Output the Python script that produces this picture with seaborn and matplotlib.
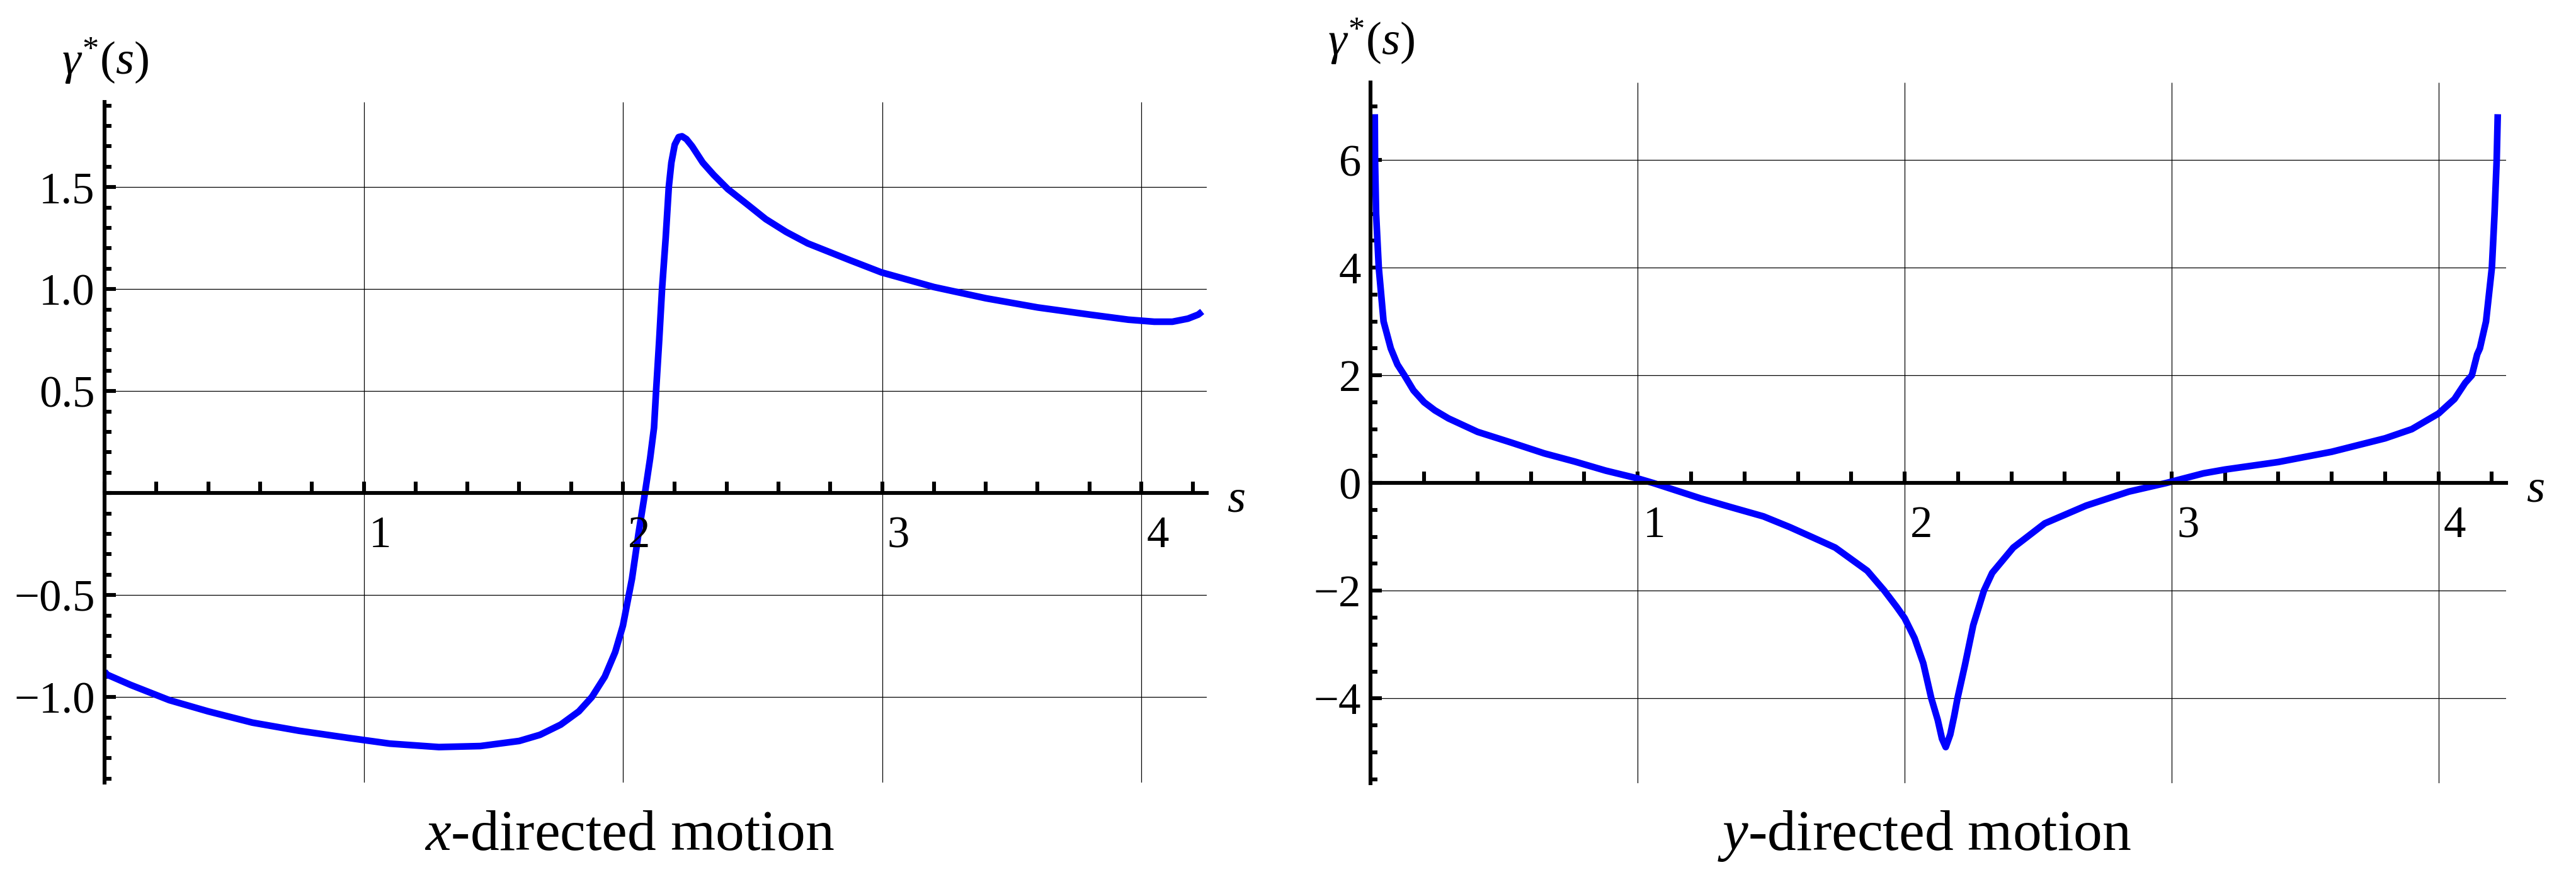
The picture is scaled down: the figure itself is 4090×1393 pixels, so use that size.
import pandas as pd
import matplotlib
matplotlib.use('Agg')
import matplotlib.pyplot as plt
from matplotlib.ticker import FixedLocator, MultipleLocator
import seaborn as sns

# values
s_x = [0.0, 0.01, 0.1, 0.25, 0.4, 0.57, 0.75, 0.94, 1.1, 1.29, 1.45, 1.6, 1.68,
       1.76, 1.83, 1.88, 1.93, 1.97, 2.0, 2.035, 2.06, 2.085, 2.105, 2.12, 2.128,
       2.14, 2.151, 2.165, 2.177, 2.187, 2.2, 2.215, 2.228, 2.245, 2.267, 2.308,
       2.35, 2.405, 2.48, 2.551, 2.63, 2.713, 2.875, 2.997, 3.2, 3.4, 3.6, 3.8,
       3.95, 4.05, 4.12, 4.18, 4.22, 4.235]
gamma_x = [-0.875, -0.89, -0.94, -1.015, -1.07, -1.125, -1.165, -1.2, -1.228, -1.245,
           -1.24, -1.215, -1.185, -1.135, -1.07, -1.0, -0.9, -0.78, -0.65, -0.42,
           -0.2, 0.0, 0.17, 0.32, 0.5, 0.75, 1.0, 1.25, 1.5, 1.62, 1.708, 1.745,
           1.749, 1.735, 1.7, 1.62, 1.56, 1.49, 1.415, 1.343, 1.28, 1.224, 1.142,
           1.082, 1.01, 0.955, 0.91, 0.875, 0.85, 0.84, 0.84, 0.855, 0.875, 0.89]

s_y = [0.015, 0.016, 0.02, 0.03, 0.048, 0.075, 0.1, 0.126, 0.16, 0.2, 0.24, 0.291,
       0.4, 0.527, 0.65, 0.763, 0.88, 1.0, 1.058, 1.235, 1.35, 1.471, 1.57, 1.66,
       1.74, 1.86, 1.924, 1.97, 2.0, 2.037, 2.07, 2.1, 2.124, 2.14, 2.154, 2.171,
       2.186, 2.198, 2.226, 2.257, 2.297, 2.328, 2.407, 2.525, 2.68, 2.84, 2.98,
       3.12, 3.2, 3.4, 3.6, 3.8, 3.9, 4.0, 4.06, 4.1, 4.125, 4.145, 4.155, 4.178,
       4.2, 4.21, 4.218, 4.222]
gamma_y = [6.85, 6.0, 5.0, 4.0, 3.0, 2.5, 2.2, 2.0, 1.72, 1.5, 1.35, 1.2, 0.95,
           0.75, 0.55, 0.4, 0.23, 0.085, 0.0, -0.285, -0.45, -0.62, -0.82, -1.02,
           -1.2, -1.63, -2.0, -2.3, -2.51, -2.88, -3.35, -4.0, -4.4, -4.75, -4.905,
           -4.67, -4.32, -4.0, -3.38, -2.64, -2.0, -1.67, -1.2, -0.75, -0.42, -0.16,
           0.0, 0.18, 0.25, 0.39, 0.58, 0.83, 1.0, 1.29, 1.56, 1.86, 2.0, 2.39, 2.5,
           3.0, 4.0, 5.0, 6.0, 6.85]

x_ticks = [1, 2, 3, 4]
x_ticklabels = ['1', '2', '3', '4']
left_yticks = [-1.0, -0.5, 0.5, 1.0, 1.5]
left_yticklabels = ['\u22121.0', '\u22120.5', '0.5', '1.0', '1.5']
right_yticks = [-4, -2, 0, 2, 4, 6]
right_yticklabels = ['\u22124', '\u22122', '0', '2', '4', '6']
titles = ['$x$-directed motion', '$y$-directed motion']

sns.set_style('white')
plt.rcParams['font.family'] = ['Liberation Serif', 'DejaVu Serif']
plt.rcParams['mathtext.fontset'] = 'custom'
plt.rcParams['mathtext.rm'] = 'Liberation Serif'
plt.rcParams['mathtext.it'] = 'Liberation Serif:italic'
plt.rcParams['lines.solid_capstyle'] = 'butt'
plt.rcParams['text.color'] = 'black'
plt.rcParams['xtick.color'] = 'black'
plt.rcParams['ytick.color'] = 'black'
plt.rcParams['xtick.labelcolor'] = 'black'
plt.rcParams['ytick.labelcolor'] = 'black'

fig = plt.figure(figsize=(4091 / 200, 1393 / 200), dpi=200)
ax1 = fig.add_axes([0.04058, 0.1079, 0.4278, 0.7758])
ax2 = fig.add_axes([0.5320, 0.1070, 0.4406, 0.7990])

panels = [
    (ax1, s_x, gamma_x, (-1.418, 1.917), left_yticks, left_yticklabels, 0.1),
    (ax2, s_y, gamma_y, (-5.575, 7.44), right_yticks, right_yticklabels, 0.5),
]

for ax, s, g, ylim, yt, ytl, yminor in panels:
    df = pd.DataFrame({'s': s, 'gamma': g})
    sns.lineplot(data=df, x='s', y='gamma', ax=ax, color='#0000ff', linewidth=3.8,
                 sort=False, estimator=None, zorder=2)
    ax.set_xlim(0, 4.253)
    ax.set_ylim(*ylim)
    ax.set_xlabel('')
    ax.set_ylabel('')
    ax.set_facecolor('white')

    for v in x_ticks:
        ax.axvline(v, color='black', linewidth=0.45, zorder=0.5)
    for v in yt:
        ax.axhline(v, color='black', linewidth=0.45, zorder=0.5)

    for side in ['top', 'right']:
        ax.spines[side].set_visible(False)
    ax.spines['bottom'].set_position(('data', 0))
    ax.spines['left'].set_position(('data', 0))
    for side in ['bottom', 'left']:
        ax.spines[side].set_linewidth(2.2)
        ax.spines[side].set_color('black')
        ax.spines[side].set_zorder(3)

    ax.xaxis.set_major_locator(FixedLocator(x_ticks))
    ax.xaxis.set_minor_locator(MultipleLocator(0.2))
    ax.tick_params(axis='x', which='both', direction='in', length=6.5, width=2.2,
                   color='black', labelbottom=False, bottom=True)
    ax.set_yticks(yt, labels=ytl)
    ax.yaxis.set_minor_locator(MultipleLocator(yminor))
    ax.tick_params(axis='y', which='major', direction='in', length=6.5, width=2.2,
                   color='black', labelcolor='black', labelsize=25.5, pad=5.5, left=True)
    ax.tick_params(axis='y', which='minor', direction='in', length=4.0, width=2.2,
                   color='black', left=True)

    for v, lbl in zip(x_ticks, x_ticklabels):
        ax.annotate(lbl, xy=(v, 0), xytext=(3, -31), textcoords='offset points',
                    ha='left', va='baseline', fontsize=25.5, color='black')

    ax.annotate('$s$', xy=(1, 0), xycoords=('axes fraction', 'data'),
                xytext=(11.5, -10.6), textcoords='offset points',
                ha='left', va='baseline', fontsize=27, color='black')
    ax.annotate(r'$\gamma^{*}(s)$', xy=(0, 1), xycoords='axes fraction',
                xytext=(-24.5, 15.8), textcoords='offset points',
                ha='left', va='baseline', fontsize=27, color='black')

fig.text(999 / 4091, 1 - 1350 / 1393, titles[0], ha='center', va='baseline',
         fontsize=33, color='black')
fig.text(3056 / 4091, 1 - 1350 / 1393, titles[1], ha='center', va='baseline',
         fontsize=33, color='black')

fig.savefig('out.png', dpi=200, facecolor='white')
